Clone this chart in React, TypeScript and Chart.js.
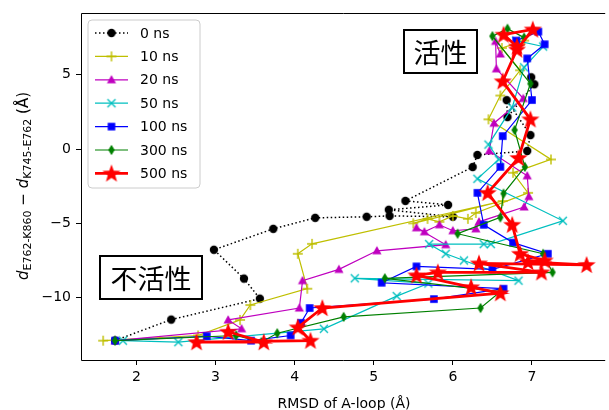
import { useEffect, useRef } from 'react';
import { Chart, registerables } from 'chart.js';

Chart.register(...registerables);

const seriesLabels = ['0 ns', '10 ns', '20 ns', '50 ns', '100 ns', '300 ns', '500 ns'];

const rmsd0 = [1.73, 2.44, 3.56, 3.36, 2.98, 3.73, 4.26, 4.91, 5.2, 6.0, 5.19, 5.94, 5.4, 6.25, 6.31, 6.94, 6.98, 6.68, 6.69, 7.03, 6.99];
const dist0 = [-12.89, -11.48, -10.07, -8.72, -6.78, -5.37, -4.63, -4.56, -4.5, -4.56, -4.09, -3.76, -3.49, -1.21, -0.4, -0.13, 0.94, 3.29, 2.15, 4.36, 4.83];

const rmsd10 = [1.58, 2.78, 3.31, 3.44, 4.16, 4.04, 4.22, 6.63, 5.5, 5.68, 5.83, 6.0, 6.19, 6.29, 6.95, 6.76, 7.24, 6.45, 6.6, 6.85, 6.62, 6.9];
const dist10 = [-12.9, -12.55, -11.5, -10.5, -9.4, -7.05, -6.38, -3.5, -5.0, -4.7, -4.9, -4.5, -4.7, -4.3, -2.95, -1.6, -0.7, 2.0, 3.6, 5.3, 6.8, 7.3];

const rmsd20 = [1.73, 3.33, 3.16, 4.06, 4.1, 4.56, 5.04, 5.91, 5.54, 5.64, 5.83, 6.0, 6.29, 6.33, 6.9, 6.96, 6.94, 6.46, 6.52, 6.89, 6.55, 6.54, 6.6];
const dist20 = [-12.9, -12.1, -11.5, -10.7, -8.86, -8.1, -6.85, -6.44, -5.3, -5.57, -5.1, -5.5, -5.37, -4.9, -3.9, -3.2, -1.8, -0.13, 1.74, 3.4, 5.4, 7.25, 6.4];

const rmsd50 = [1.83, 2.53, 4.37, 5.29, 5.69, 4.76, 6.83, 6.14, 5.91, 5.7, 6.39, 6.48, 7.39, 6.31, 6.58, 6.45, 6.75, 6.9, 7.14, 6.8];
const dist50 = [-12.9, -13.0, -12.1, -9.9, -9.05, -8.7, -8.86, -7.5, -7.05, -6.4, -6.4, -6.4, -4.83, -2.0, -0.7, 0.3, 2.8, 5.5, 6.9, 7.3];

const rmsd100 = [1.73, 2.89, 3.45, 3.95, 4.08, 4.19, 5.76, 6.64, 5.1, 5.54, 6.5, 7.2, 6.76, 6.39, 6.31, 6.6, 6.63, 7.0, 6.94, 7.16, 7.08, 6.8];
const dist100 = [-12.9, -12.6, -12.9, -12.55, -11.7, -10.7, -10.1, -9.4, -9.0, -7.9, -8.1, -7.05, -6.3, -5.1, -2.95, -1.2, 0.87, 3.3, 6.1, 7.05, 7.9, 7.3];

const rmsd300 = [1.73, 3.26, 3.58, 3.78, 4.62, 6.35, 6.6, 5.14, 7.26, 7.14, 6.06, 6.6, 6.64, 6.91, 6.78, 6.98, 6.5, 6.69, 6.9];
const dist300 = [-12.9, -12.55, -13.0, -12.4, -11.3, -10.7, -9.6, -8.7, -8.3, -7.05, -5.7, -4.6, -3.0, -1.2, 1.28, 4.4, 7.6, 8.1, 7.5];

const rmsd500 = [3.16, 3.61, 2.76, 4.2, 4.04, 4.35, 6.6, 6.23, 5.54, 5.81, 7.12, 6.33, 7.69, 6.95, 7.16, 6.85, 6.75, 6.44, 6.83, 6.98, 6.63, 6.81, 7.01, 6.64, 6.81];
const dist500 = [-12.3, -13.0, -13.0, -12.9, -12.0, -10.7, -9.7, -9.3, -8.5, -8.3, -8.3, -7.7, -7.8, -7.6, -7.5, -7.05, -5.1, -2.95, -0.6, 2.0, 4.56, 6.7, 8.05, 7.7, 6.9];

const xTicks = [2, 3, 4, 5, 6, 7];
const yTicks = [-10, -5, 0, 5];

const seriesX = [rmsd0, rmsd10, rmsd20, rmsd50, rmsd100, rmsd300, rmsd500];
const seriesY = [dist0, dist10, dist20, dist50, dist100, dist300, dist500];
const colors = ['#000000', '#bfbf00', '#bf00bf', '#00bfbf', '#0000ff', '#008000', '#ff0000'];
const markers = ['circle', 'plus', 'triangle', 'x', 'square', 'thin_diamond', 'star'];
const lineWidths = [1.5, 1.2, 1.2, 1.2, 1.2, 1.2, 2.8];

const FONT = '"DejaVu Sans", sans-serif';

function makeMarker(kind: string, color: string): HTMLCanvasElement {
  const size = kind === 'star' ? 22 : 14;
  const c = document.createElement('canvas');
  c.width = size;
  c.height = size;
  const g = c.getContext('2d')!;
  const m = size / 2;
  g.fillStyle = color;
  g.strokeStyle = color;
  g.lineWidth = 1.4;
  g.beginPath();
  switch (kind) {
    case 'circle':
      g.arc(m, m, 4.2, 0, Math.PI * 2);
      g.fill();
      break;
    case 'plus':
      g.moveTo(m - 5, m); g.lineTo(m + 5, m);
      g.moveTo(m, m - 5); g.lineTo(m, m + 5);
      g.stroke();
      break;
    case 'triangle':
      g.moveTo(m, m - 4.8); g.lineTo(m + 4.6, m + 3.4); g.lineTo(m - 4.6, m + 3.4);
      g.closePath();
      g.fill();
      break;
    case 'x':
      g.moveTo(m - 4, m - 4); g.lineTo(m + 4, m + 4);
      g.moveTo(m + 4, m - 4); g.lineTo(m - 4, m + 4);
      g.stroke();
      break;
    case 'square':
      g.rect(m - 3.8, m - 3.8, 7.6, 7.6);
      g.fill();
      break;
    case 'thin_diamond':
      g.moveTo(m, m - 5.2); g.lineTo(m + 3.2, m); g.lineTo(m, m + 5.2); g.lineTo(m - 3.2, m);
      g.closePath();
      g.fill();
      break;
    case 'star': {
      const R = 9.5, r = 3.9;
      for (let i = 0; i < 10; i++) {
        const a = -Math.PI / 2 + (i * Math.PI) / 5;
        const rr = i % 2 === 0 ? R : r;
        const px = m + rr * Math.cos(a);
        const py = m + 0.5 + rr * Math.sin(a);
        if (i === 0) g.moveTo(px, py); else g.lineTo(px, py);
      }
      g.closePath();
      g.fill();
      break;
    }
  }
  return c;
}

function fmt(v: number): string {
  return v < 0 ? '\u2212' + Math.abs(v) : String(v);
}

export default function App() {
  const ref = useRef<HTMLCanvasElement | null>(null);

  useEffect(() => {
    if (!ref.current) return;
    const images = markers.map((k, i) => makeMarker(k, colors[i]));
    const n = seriesLabels.length;

    const datasets = seriesLabels.map((label, i) => ({
      label,
      data: seriesX[i].map((x, j) => ({ x, y: seriesY[i][j] })),
      showLine: true,
      borderColor: colors[i],
      backgroundColor: colors[i],
      borderWidth: lineWidths[i],
      borderDash: i === 0 ? [1.5, 2.5] : [],
      pointStyle: images[i] as any,
      pointRadius: 3,
      pointHoverRadius: 3,
      order: n - 1 - i,
      tension: 0,
    }));

    const decor = {
      id: 'decor',
      afterDraw(chart: any) {
        const ctx = chart.ctx as CanvasRenderingContext2D;
        const a = chart.chartArea;
        ctx.save();
        // spines
        ctx.strokeStyle = '#000';
        ctx.lineWidth = 1;
        ctx.beginPath();
        ctx.moveTo(Math.round(a.left) + 0.5, Math.round(a.bottom) + 0.5);
        ctx.lineTo(Math.round(a.left) + 0.5, Math.round(a.top) + 0.5);
        ctx.lineTo(a.right + 2, Math.round(a.top) + 0.5);
        ctx.moveTo(Math.round(a.left) + 0.5, Math.round(a.bottom) + 0.5);
        ctx.lineTo(a.right + 2, Math.round(a.bottom) + 0.5);
        ctx.stroke();

        // legend
        const lx = 88, ly = 20, lw = 112, lh = 168, rad = 4;
        ctx.beginPath();
        ctx.moveTo(lx + rad, ly);
        ctx.lineTo(lx + lw - rad, ly);
        ctx.quadraticCurveTo(lx + lw, ly, lx + lw, ly + rad);
        ctx.lineTo(lx + lw, ly + lh - rad);
        ctx.quadraticCurveTo(lx + lw, ly + lh, lx + lw - rad, ly + lh);
        ctx.lineTo(lx + rad, ly + lh);
        ctx.quadraticCurveTo(lx, ly + lh, lx, ly + lh - rad);
        ctx.lineTo(lx, ly + rad);
        ctx.quadraticCurveTo(lx, ly, lx + rad, ly);
        ctx.closePath();
        ctx.fillStyle = 'rgba(255,255,255,0.8)';
        ctx.fill();
        ctx.strokeStyle = '#cccccc';
        ctx.lineWidth = 1;
        ctx.stroke();
        ctx.font = '14px ' + FONT;
        ctx.textBaseline = 'middle';
        ctx.textAlign = 'left';
        for (let i = 0; i < n; i++) {
          const y = 33 + i * 23.4;
          ctx.strokeStyle = colors[i];
          ctx.lineWidth = lineWidths[i];
          ctx.setLineDash(i === 0 ? [1.5, 2.5] : []);
          ctx.beginPath();
          ctx.moveTo(95, y);
          ctx.lineTo(128, y);
          ctx.stroke();
          ctx.setLineDash([]);
          const img = images[i];
          ctx.drawImage(img, 111.5 - img.width / 2, y - img.height / 2);
          ctx.fillStyle = '#000';
          ctx.fillText(seriesLabels[i], 140, y + 1);
        }

        // annotation boxes
        const boxes = [
          { t: '活性', x0: 404, y0: 30, x1: 477, y1: 73 },
          { t: '不活性', x0: 100, y0: 256, x1: 202, y1: 299 },
        ];
        for (const b of boxes) {
          ctx.fillStyle = '#fff';
          ctx.fillRect(b.x0, b.y0, b.x1 - b.x0, b.y1 - b.y0);
          ctx.strokeStyle = '#000';
          ctx.lineWidth = 2;
          ctx.strokeRect(b.x0, b.y0, b.x1 - b.x0, b.y1 - b.y0);
          ctx.fillStyle = '#000';
          ctx.font = '27px "Noto Sans CJK JP", sans-serif';
          ctx.textAlign = 'center';
          ctx.textBaseline = 'middle';
          ctx.fillText(b.t, (b.x0 + b.x1) / 2, (b.y0 + b.y1) / 2 + 1);
        }

        // x title
        ctx.font = '14px ' + FONT;
        ctx.textAlign = 'center';
        ctx.textBaseline = 'alphabetic';
        ctx.fillStyle = '#000';
        ctx.fillText('RMSD of A-loop (Å)', (a.left + 607) / 2, 408);

        // y title (rotated, with subscripts)
        const parts = [
          { t: 'd', f: 'italic 15px ' + FONT, dy: 0 },
          { t: 'E762-K860', f: '11px ' + FONT, dy: 3 },
          { t: ' \u2212 ', f: '15px ' + FONT, dy: 0 },
          { t: 'd', f: 'italic 15px ' + FONT, dy: 0 },
          { t: 'K745-E762', f: '11px ' + FONT, dy: 3 },
          { t: ' (Å)', f: '15px ' + FONT, dy: 0 },
        ];
        let total = 0;
        const widths = parts.map((p) => {
          ctx.font = p.f;
          const w = ctx.measureText(p.t).width;
          total += w;
          return w;
        });
        ctx.translate(28, 186);
        ctx.rotate(-Math.PI / 2);
        ctx.textAlign = 'left';
        let cx = -total / 2;
        parts.forEach((p, i) => {
          ctx.font = p.f;
          ctx.fillText(p.t, cx, p.dy);
          cx += widths[i];
        });
        ctx.restore();
      },
    };

    const chart = new Chart(ref.current, {
      type: 'scatter',
      data: { datasets: datasets as any },
      options: {
        animation: false,
        responsive: false,
        devicePixelRatio: 1,
        layout: { padding: { top: 12, right: 0, left: 0, bottom: 0 } },
        plugins: { legend: { display: false }, tooltip: { enabled: false } },
        scales: {
          x: {
            type: 'linear',
            min: 1.3,
            max: 7.9,
            afterBuildTicks: (s: any) => { s.ticks = xTicks.map((v) => ({ value: v })); },
            afterFit: (s: any) => { s.height = 50; },
            ticks: { color: '#000', font: { family: FONT, size: 14 }, padding: 4, callback: (v: any) => fmt(Number(v)), maxRotation: 0, autoSkip: false },
            grid: { drawOnChartArea: false, drawTicks: true, tickLength: 5, color: '#000' },
            border: { display: false },
          },
          y: {
            type: 'linear',
            min: -14.2,
            max: 9.13,
            afterBuildTicks: (s: any) => { s.ticks = yTicks.map((v) => ({ value: v })); },
            afterFit: (s: any) => { s.width = 81; },
            ticks: { color: '#000', font: { family: FONT, size: 14 }, padding: 5, callback: (v: any) => fmt(Number(v)), autoSkip: false },
            grid: { drawOnChartArea: false, drawTicks: true, tickLength: 5, color: '#000' },
            border: { display: false },
          },
        },
      },
      plugins: [decor],
    });
    return () => chart.destroy();
  }, []);

  return (
    <div style={{ position: 'fixed', left: 0, top: 0, width: 609, height: 410, background: '#fff' }}>
      <canvas ref={ref} width={609} height={410} style={{ display: 'block' }} />
    </div>
  );
}
